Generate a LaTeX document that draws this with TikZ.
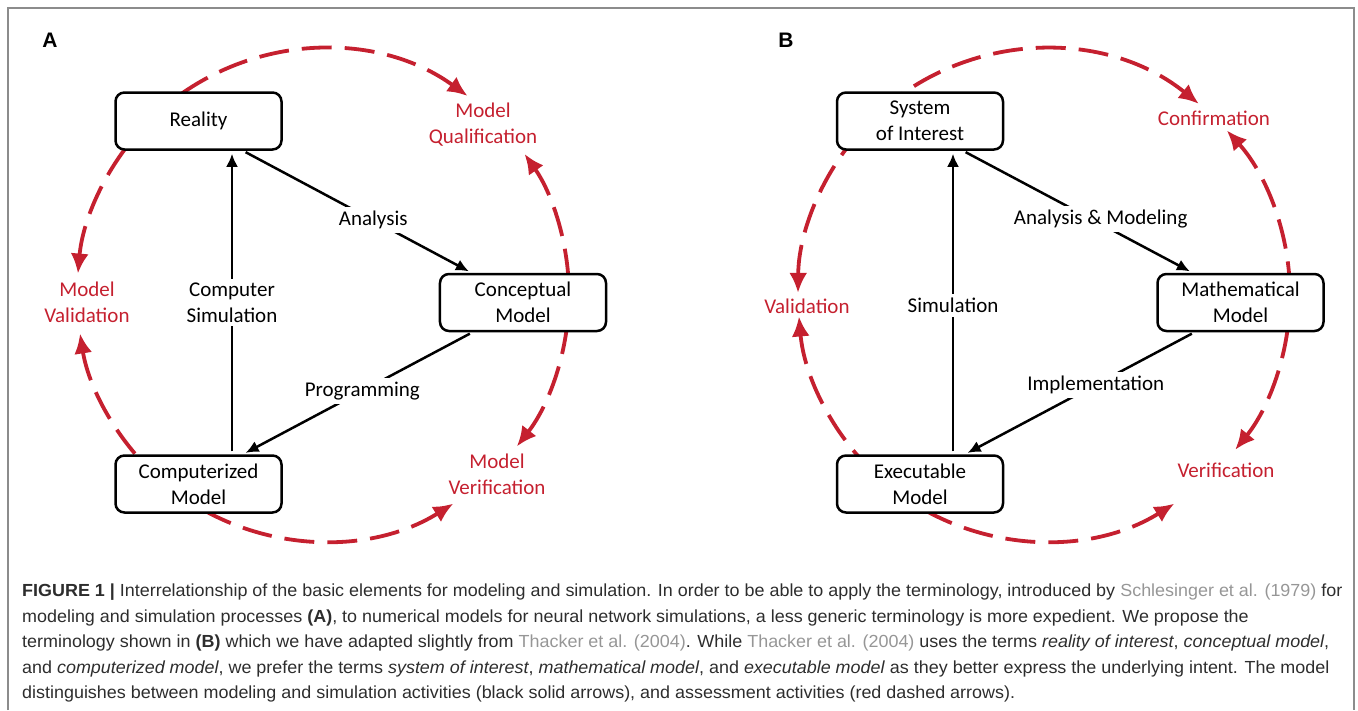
\documentclass[tikz,border=0pt]{standalone}
\usepackage{fontspec}
\setmainfont{Carlito}
\newfontfamily\capfont[FakeStretch=1.025]{Liberation Sans}
\newfontfamily\panelfont{Liberation Sans}
\usetikzlibrary{matrix,arrows.meta}

\definecolor{assessred}{RGB}{197,32,47}
\definecolor{citegray}{RGB}{150,150,150}
\definecolor{captext}{RGB}{45,45,45}
\definecolor{framegray}{RGB}{140,140,140}
\newcommand{\citeref}[1]{\textcolor{citegray}{#1}}

\tikzset{
  box/.style={draw, line width=2.5pt, rounded corners=9pt, fill=white,
    minimum width=166pt, minimum height=57pt, align=center,
    font=\fontsize{21}{26}\selectfont},
  flow/.style={line width=2.5pt, -{Latex[length=13pt,width=12pt]},
    shorten <=3pt, shorten >=3pt},
  lbl/.style={fill=white, align=center, inner sep=4pt,
    font=\fontsize{21}{26}\selectfont},
  % drawn from the tip back to the box, so a dash always meets the head
  assess/.style={assessred, line width=3.8pt, dash pattern=on 30pt off 13pt,
    {Latex[length=20pt,width=18pt]}-},
  redlbl/.style={text=assessred, align=center, font=\fontsize{21}{26}\selectfont},
  panel/.style={font=\panelfont\bfseries\fontsize{21}{24}\selectfont},
  caption/.style={anchor=north west, align=left, inner sep=0pt, text=captext,
    font=\capfont\fontsize{17.5}{25.5}\selectfont},
}

\begin{document}
\begin{tikzpicture}[x=1pt, y=-1pt]
  \useasboundingbox (0,0) rectangle (1358,710);
  \draw[framegray, line width=1.5pt] (8,710) |- (1354,8) -- (1354,710);

  % centres of the assessment circles
  \coordinate (ctrA) at (323,295);
  \coordinate (ctrB) at (1044,295);

  % red dashed assessment arcs (drawn first, the boxes cover their starts)
  \foreach \a/\b in {128/54, 2/35, -3/-38, 238/302, 225/189, 138/175}
    \draw[assess] ([shift={(\b:246pt)}]ctrA) arc[start angle=\b, end angle=\a, radius=246pt];
  \foreach \a/\b in {128/51, 2/42, -3/-39, 238/302, 225/185, 138/179.5}
    \draw[assess] ([shift={(\b:246pt)}]ctrB) arc[start angle=\b, end angle=\a, radius=246pt];

  \node[panel] (labA) at (50,40) {A};
  \node[panel] (labB) at (786,40) {B};

  % panel A
  \matrix (a) [matrix anchor=reality.center, row sep=122pt, column sep=156pt] at (198.5,121)
  {
    \node[box] (reality) {Reality}; & \\
    & \node[box] (concept) {Conceptual\\Model}; \\
    \node[box] (computer) {Computerized\\Model}; & \\
  };
  \path[flow]
    ([xshift=33.5pt]computer.north) edge node[lbl]{Computer\\Simulation} ([xshift=33.5pt]reality.south)
    ([xshift=44.5pt]reality.south) edge node[lbl, pos=0.57]{Analysis} ([xshift=-51.5pt]concept.north)
    ([xshift=-50.5pt]concept.south) edge node[lbl, pos=0.48]{Programming} ([xshift=44.5pt]computer.north);

  \node[redlbl] (qualA) at (483,125) {Model\\Qualification};
  \node[redlbl] (validA) at (87,302) {Model\\Validation};
  \node[redlbl] (verifA) at (497,474) {Model\\Verification};

  % panel B
  \matrix (b) [matrix anchor=soi.center, row sep=122pt, column sep=152pt] at (920,121)
  {
    \node[box] (soi) {System\\of Interest}; & \\
    & \node[box] (math) {Mathematical\\Model}; \\
    \node[box] (exe) {Executable\\Model}; & \\
  };
  \path[flow]
    ([xshift=33pt]exe.north) edge node[lbl, yshift=-3pt]{Simulation} ([xshift=33pt]soi.south)
    ([xshift=43pt]soi.south) edge node[lbl, pos=0.6, yshift=5pt]{Analysis \& Modeling} ([xshift=-48pt]math.north)
    ([xshift=-46pt]math.south) edge node[lbl, pos=0.43]{Implementation} ([xshift=45pt]exe.north);

  \node[redlbl] (confB) at (1214,118) {Confirmation};
  \node[redlbl] (validB) at (807,306) {Validation};
  \node[redlbl] (verifB) at (1226,470) {Verification};

  % caption
  \node[caption] (cap) at (22,584) {%
    \textbf{FIGURE 1 |} Interrelationship of the basic elements for modeling and simulation. In order to be able to apply the terminology, introduced by \citeref{Schlesinger et al. (1979)} for\\
    modeling and simulation processes \textbf{(A)}, to numerical models for neural network simulations, a less generic terminology is more expedient. We propose the\\
    terminology shown in \textbf{(B)} which we have adapted slightly from \citeref{Thacker et al. (2004)}. While \citeref{Thacker et al. (2004)} uses the terms \textit{reality of interest}, \textit{conceptual model},\\
    and \textit{computerized model}, we prefer the terms \textit{system of interest}, \textit{mathematical model}, and \textit{executable model} as they better express the underlying intent. The model\\
    distinguishes between modeling and simulation activities (black solid arrows), and assessment activities (red dashed arrows).};
\end{tikzpicture}
\end{document}
